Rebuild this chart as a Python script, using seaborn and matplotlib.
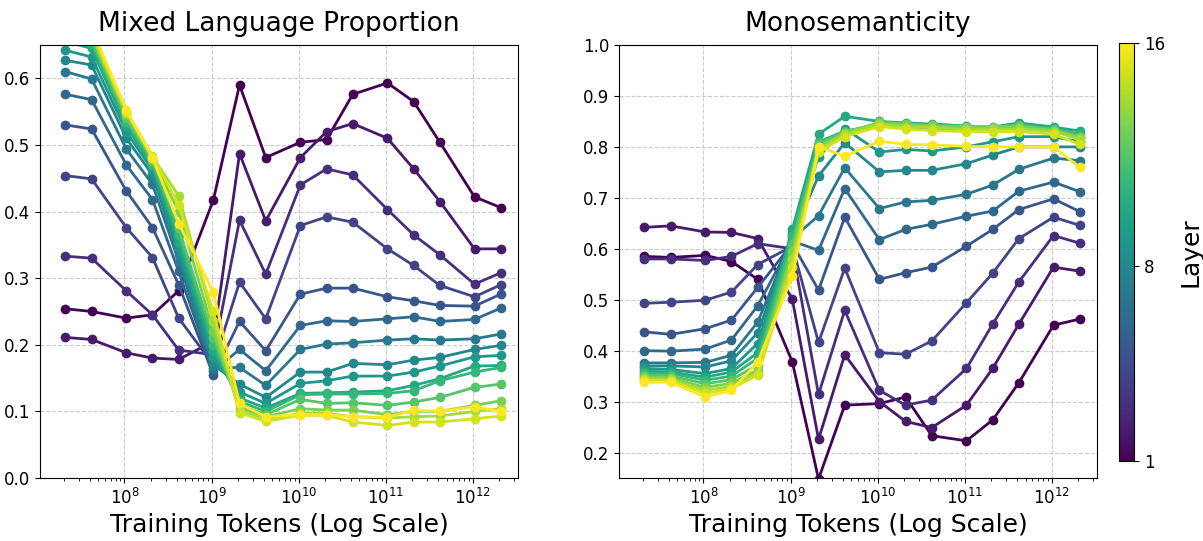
import numpy as np
import pandas as pd
import seaborn as sns
import matplotlib
matplotlib.use("Agg")
import matplotlib.pyplot as plt
from matplotlib.colors import Normalize

# training steps (x 4M tokens per step)
steps = [5, 10, 25, 50, 100, 250, 500, 1000, 2500, 5000,
         10000, 25000, 50000, 100000, 250000, 500000]
tokens = [s * 4194304 for s in steps]
layers = list(range(1, 17))

# Mixed language proportion, one list per layer
mixed = {
    1: [0.254, 0.250, 0.240, 0.245, 0.281, 0.417, 0.590, 0.481, 0.504, 0.508, 0.576, 0.593, 0.565, 0.504, 0.422, 0.406],
    2: [0.211, 0.208, 0.188, 0.180, 0.178, 0.205, 0.487, 0.386, 0.481, 0.520, 0.532, 0.510, 0.464, 0.415, 0.344, 0.344],
    3: [0.333, 0.330, 0.281, 0.245, 0.192, 0.185, 0.387, 0.306, 0.440, 0.464, 0.455, 0.403, 0.365, 0.335, 0.291, 0.308],
    4: [0.454, 0.449, 0.376, 0.331, 0.240, 0.170, 0.294, 0.239, 0.379, 0.392, 0.384, 0.344, 0.319, 0.289, 0.272, 0.290],
    5: [0.530, 0.524, 0.431, 0.376, 0.290, 0.155, 0.235, 0.191, 0.276, 0.285, 0.285, 0.272, 0.266, 0.259, 0.258, 0.276],
    6: [0.576, 0.568, 0.470, 0.418, 0.310, 0.160, 0.193, 0.161, 0.229, 0.236, 0.235, 0.239, 0.242, 0.235, 0.238, 0.255],
    7: [0.610, 0.599, 0.494, 0.441, 0.325, 0.165, 0.166, 0.139, 0.193, 0.201, 0.203, 0.207, 0.209, 0.207, 0.209, 0.216],
    8: [0.627, 0.620, 0.510, 0.455, 0.335, 0.170, 0.141, 0.121, 0.159, 0.159, 0.172, 0.170, 0.177, 0.181, 0.193, 0.199],
    9: [0.642, 0.632, 0.520, 0.462, 0.345, 0.180, 0.129, 0.112, 0.142, 0.146, 0.153, 0.153, 0.159, 0.168, 0.182, 0.184],
    10: [0.655, 0.645, 0.528, 0.468, 0.355, 0.190, 0.120, 0.105, 0.127, 0.128, 0.129, 0.131, 0.139, 0.149, 0.168, 0.169],
    11: [0.665, 0.652, 0.535, 0.472, 0.365, 0.200, 0.115, 0.100, 0.125, 0.126, 0.126, 0.127, 0.131, 0.146, 0.159, 0.166],
    12: [0.672, 0.658, 0.540, 0.476, 0.375, 0.210, 0.110, 0.095, 0.118, 0.112, 0.113, 0.109, 0.114, 0.121, 0.136, 0.141],
    13: [0.680, 0.662, 0.545, 0.479, 0.400, 0.220, 0.105, 0.092, 0.104, 0.102, 0.102, 0.095, 0.100, 0.100, 0.109, 0.116],
    14: [0.686, 0.666, 0.548, 0.482, 0.424, 0.235, 0.100, 0.088, 0.097, 0.097, 0.092, 0.090, 0.092, 0.093, 0.100, 0.104],
    15: [0.692, 0.670, 0.550, 0.484, 0.410, 0.250, 0.098, 0.085, 0.094, 0.094, 0.084, 0.079, 0.084, 0.084, 0.089, 0.093],
    16: [0.700, 0.675, 0.553, 0.481, 0.382, 0.279, 0.112, 0.092, 0.095, 0.095, 0.092, 0.091, 0.102, 0.100, 0.107, 0.100],
}

# Monosemanticity, one list per layer
mono = {
    1: [0.585, 0.583, 0.587, 0.575, 0.540, 0.378, 0.148, 0.293, 0.296, 0.309, 0.233, 0.223, 0.264, 0.337, 0.450, 0.462],
    2: [0.642, 0.645, 0.633, 0.632, 0.620, 0.501, 0.226, 0.392, 0.300, 0.261, 0.249, 0.293, 0.365, 0.452, 0.564, 0.556],
    3: [0.580, 0.580, 0.577, 0.585, 0.610, 0.600, 0.314, 0.479, 0.322, 0.293, 0.303, 0.365, 0.452, 0.535, 0.626, 0.611],
    4: [0.493, 0.495, 0.499, 0.515, 0.569, 0.605, 0.416, 0.562, 0.396, 0.393, 0.419, 0.494, 0.552, 0.620, 0.662, 0.646],
    5: [0.437, 0.432, 0.443, 0.460, 0.524, 0.610, 0.519, 0.662, 0.540, 0.553, 0.564, 0.605, 0.638, 0.677, 0.698, 0.673],
    6: [0.400, 0.399, 0.403, 0.421, 0.488, 0.615, 0.597, 0.718, 0.618, 0.638, 0.648, 0.664, 0.674, 0.713, 0.731, 0.712],
    7: [0.376, 0.376, 0.377, 0.391, 0.456, 0.620, 0.665, 0.759, 0.679, 0.692, 0.695, 0.707, 0.725, 0.756, 0.778, 0.773],
    8: [0.370, 0.370, 0.368, 0.380, 0.435, 0.625, 0.743, 0.808, 0.751, 0.754, 0.754, 0.767, 0.784, 0.800, 0.800, 0.800],
    9: [0.365, 0.363, 0.355, 0.365, 0.414, 0.630, 0.780, 0.836, 0.790, 0.795, 0.792, 0.800, 0.810, 0.820, 0.820, 0.810],
    10: [0.360, 0.358, 0.348, 0.358, 0.396, 0.638, 0.825, 0.860, 0.850, 0.847, 0.845, 0.841, 0.839, 0.847, 0.839, 0.831],
    11: [0.356, 0.355, 0.342, 0.350, 0.385, 0.625, 0.810, 0.831, 0.843, 0.840, 0.835, 0.835, 0.835, 0.840, 0.835, 0.825],
    12: [0.352, 0.351, 0.335, 0.343, 0.372, 0.610, 0.806, 0.830, 0.845, 0.842, 0.840, 0.838, 0.838, 0.843, 0.835, 0.820],
    13: [0.348, 0.347, 0.328, 0.336, 0.362, 0.595, 0.800, 0.828, 0.848, 0.845, 0.842, 0.840, 0.840, 0.840, 0.832, 0.820],
    14: [0.345, 0.344, 0.322, 0.330, 0.356, 0.580, 0.795, 0.825, 0.845, 0.840, 0.838, 0.835, 0.835, 0.835, 0.830, 0.815],
    15: [0.342, 0.341, 0.316, 0.326, 0.352, 0.565, 0.790, 0.820, 0.840, 0.835, 0.832, 0.830, 0.830, 0.830, 0.825, 0.805],
    16: [0.338, 0.338, 0.309, 0.322, 0.377, 0.546, 0.800, 0.782, 0.811, 0.805, 0.804, 0.801, 0.800, 0.800, 0.800, 0.760],
}


def to_long(d):
    rows = []
    for layer in layers:
        for t, v in zip(tokens, d[layer]):
            rows.append((layer, t, v))
    return pd.DataFrame(rows, columns=["layer", "tokens", "value"])


df_mixed = to_long(mixed)
df_mono = to_long(mono)

W, H = 1203, 541
fig = plt.figure(figsize=(W / 100, H / 100), dpi=100)
ax1 = fig.add_axes([40 / W, 1 - 478 / H, 478 / W, 433 / H])
ax2 = fig.add_axes([619 / W, 1 - 478 / H, 478 / W, 433 / H])
cax = fig.add_axes([1119 / W, 1 - 461 / H, 15 / W, 418 / H])

norm = Normalize(1, 16)
panels = [
    (ax1, df_mixed, "Mixed Language Proportion", (0, 0.65)),
    (ax2, df_mono, "Monosemanticity", (0.15, 1.0)),
]
for ax, data, title, ylim in panels:
    sns.lineplot(data=data, x="tokens", y="value", hue="layer",
                 palette="viridis", hue_norm=norm, marker="o",
                 markersize=7, markeredgewidth=0, linewidth=2,
                 errorbar=None, legend=False, ax=ax)
    ax.set_xscale("log")
    ax.set_xlim(10 ** 7.03, 10 ** 12.52)
    ax.set_ylim(*ylim)
    ax.set_title(title, fontsize=19, pad=10)
    ax.set_xlabel("Training Tokens (Log Scale)", fontsize=18)
    ax.set_ylabel("")
    ax.tick_params(labelsize=12)
    ax.grid(True, which="major", linestyle="--", color="#cccccc", linewidth=0.8)

ax2.set_yticks(np.arange(0.2, 1.01, 0.1))

sm = plt.cm.ScalarMappable(cmap="viridis", norm=norm)
cb = fig.colorbar(sm, cax=cax, ticks=[1, 8, 16])
cb.ax.tick_params(labelsize=12)
cb.set_label("Layer", fontsize=18, labelpad=10)

fig.savefig("out.png", dpi=100)
